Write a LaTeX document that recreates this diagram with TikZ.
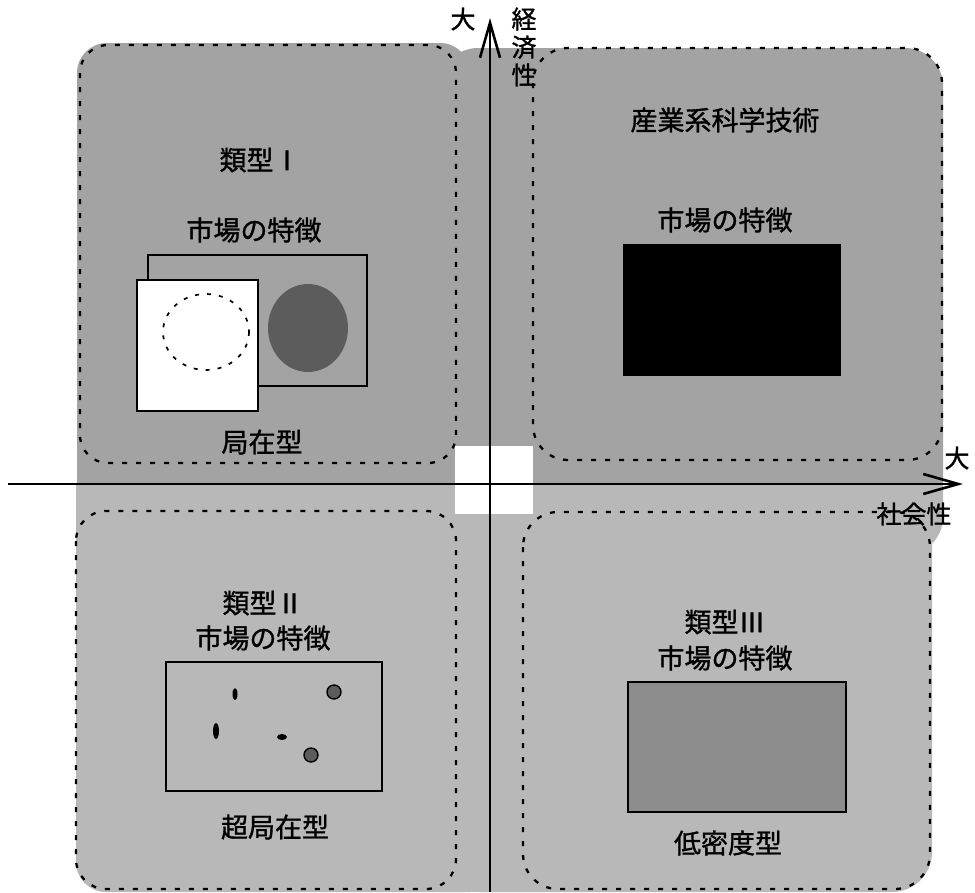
\documentclass[tikz,border=0pt]{standalone}
\usepackage{fontspec}
\newfontfamily\jp[FakeBold=1.2]{Noto Sans CJK JP}
\usetikzlibrary{arrows.meta}
\definecolor{gtop}{gray}{0.64}
\definecolor{gbot}{gray}{0.72}
\definecolor{gdark}{gray}{0.36}
\definecolor{gmid}{gray}{0.55}
\begin{document}
\begin{tikzpicture}[x=1pt,y=-1pt,
  lbl/.style={font=\jp\fontsize{27}{30}\selectfont, inner sep=0pt},
  axlbl/.style={font=\jp\fontsize{25}{28}\selectfont, inner sep=0pt},
  qborder/.style={line width=2.3pt, dash pattern=on 5pt off 9pt},
  boxline/.style={line width=1.7pt},
  axisline/.style={line width=2.6pt, -{Straight Barb[length=35pt,width=20pt]}}]
\useasboundingbox (0,0) rectangle (975,892);
% ---- gray fills: bottom half ----
\begin{scope}
  \clip (0,483) rectangle (975,892);
  \fill[gbot, rounded corners=30] (76,440) rectangle (500,892);
  \fill[gbot, rounded corners=40] (440,440) rectangle (932,892);
  \fill[gbot, rounded corners=38] (440,48) rectangle (943,555);
\end{scope}
% ---- gray fills: top half ----
\begin{scope}
  \clip (0,0) rectangle (975,483);
  \fill[gtop, rounded corners=30] (77,43) rectangle (470,520);
  \fill[gtop, rounded corners=38] (440,48) rectangle (943,555);
\end{scope}
% ---- dashed quadrant borders ----
\draw[qborder, rounded corners=28] (80,45) rectangle (456,463);
\draw[qborder, rounded corners=35] (533,48) rectangle (942,460);
\draw[qborder, rounded corners=30] (76,511) rectangle (456,889);
\draw[qborder, rounded corners=35] (523,512) rectangle (930,889);
% ---- white centre square ----
\fill[white] (455,446) rectangle (533,514);
% ---- axes ----
\coordinate (xstart) at (8,484);
\coordinate (xend) at (963,484);
\coordinate (ystart) at (490,892);
\coordinate (yend) at (490,18);
\draw[axisline] (xstart) -- (xend);
\draw[axisline] (ystart) -- (yend);
\node[axlbl] (bigY) at (463,19) {大};
\node[axlbl, align=center] (yaxlbl) at (524,47) {経\\済\\性};
\node[axlbl] (bigX) at (957,458) {大};
\node[axlbl] (xaxlbl) at (914,514) {社会性};
% ---- quadrant I (top left) ----
\node[lbl] (t1) at (260,160) {類型Ⅰ};
\node[lbl] (m1) at (254,230) {市場の特徴};
\draw[boxline, fill=gtop] (148,255) rectangle (367,386);
\fill[gdark] (308,328) ellipse [x radius=40, y radius=44];
\draw[boxline, fill=white] (137,280) rectangle (258,411);
\draw[line width=1.7pt, dash pattern=on 4pt off 8pt] (206,332) ellipse [x radius=43, y radius=38];
\node[lbl] (b1) at (262,442) {局在型};
% ---- top right ----
\node[lbl] (t2) at (725,120) {産業系科学技術};
\node[lbl] (m2) at (725,220) {市場の特徴};
\fill[black] (623,244) rectangle (841,376);
% ---- quadrant II (bottom left) ----
\node[lbl] (t3) at (263,603) {類型Ⅱ};
\node[lbl] (m3) at (263,638) {市場の特徴};
\draw[boxline] (166,662) rectangle (382,791);
\fill[black] (235,694) ellipse [x radius=2.5, y radius=6];
\fill[black] (216,731) ellipse [x radius=3, y radius=8];
\fill[black] (282,737) ellipse [x radius=5, y radius=3];
\draw[line width=1.4pt, fill=gdark] (334,692) circle [radius=7];
\draw[line width=1.4pt, fill=gdark] (311,755) circle [radius=7];
\node[lbl] (b3) at (275,827) {超局在型};
% ---- quadrant III (bottom right) ----
\node[lbl] (t4) at (725,622) {類型Ⅲ};
\node[lbl] (m4) at (725,658) {市場の特徴};
\draw[boxline, fill=gmid] (628,682) rectangle (846,812);
\node[lbl] (b4) at (728,843) {低密度型};
\end{tikzpicture}
\end{document}
